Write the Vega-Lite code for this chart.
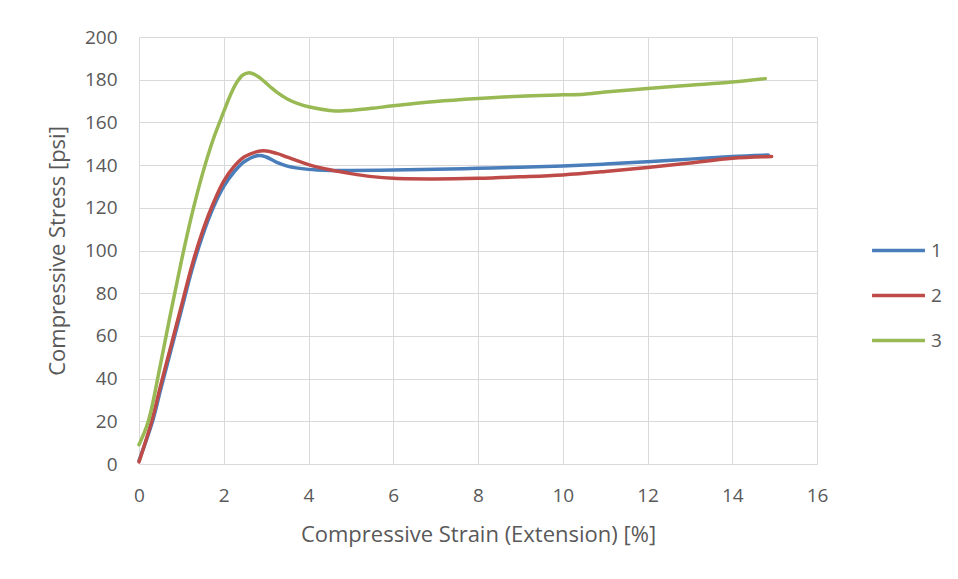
{
  "$schema": "https://vega.github.io/schema/vega-lite/v6.json",
  "width": 678,
  "height": 427,
  "autosize": {"type": "none"},
  "padding": {"left": 139, "top": 37, "right": 141, "bottom": 115},
  "background": "white",
  "config": {
    "font": "Open Sans",
    "view": {"stroke": null},
    "axis": {
      "gridColor": "#d9d9d9",
      "gridWidth": 1,
      "labelColor": "#595959",
      "labelFontSize": 19,
      "labelFlush": false,
      "titleColor": "#595959",
      "titleFontSize": 22,
      "titleFontWeight": "normal",
      "ticks": false,
      "domain": false
    }
  },
  "data": {
    "values": [
      {"series": "1", "x": 0, "y": 1.5},
      {"series": "1", "x": 0.32, "y": 20},
      {"series": "1", "x": 0.5, "y": 34},
      {"series": "1", "x": 0.75, "y": 53},
      {"series": "1", "x": 1.0, "y": 72},
      {"series": "1", "x": 1.25, "y": 91},
      {"series": "1", "x": 1.5, "y": 107},
      {"series": "1", "x": 1.75, "y": 120},
      {"series": "1", "x": 2.0, "y": 130},
      {"series": "1", "x": 2.25, "y": 137},
      {"series": "1", "x": 2.5, "y": 141.8},
      {"series": "1", "x": 2.82, "y": 144.5},
      {"series": "1", "x": 3.0, "y": 143.8},
      {"series": "1", "x": 3.25, "y": 141.3},
      {"series": "1", "x": 3.5, "y": 139.5},
      {"series": "1", "x": 4.0, "y": 138},
      {"series": "1", "x": 4.5, "y": 137.5},
      {"series": "1", "x": 5.0, "y": 137.5},
      {"series": "1", "x": 6.0, "y": 137.7},
      {"series": "1", "x": 7.0, "y": 138},
      {"series": "1", "x": 8.0, "y": 138.5},
      {"series": "1", "x": 9.0, "y": 139},
      {"series": "1", "x": 10.0, "y": 139.6},
      {"series": "1", "x": 11.0, "y": 140.5},
      {"series": "1", "x": 12.0, "y": 141.6},
      {"series": "1", "x": 13.0, "y": 142.8},
      {"series": "1", "x": 14.0, "y": 144},
      {"series": "1", "x": 14.85, "y": 144.7},
      {"series": "2", "x": 0, "y": 1},
      {"series": "2", "x": 0.3, "y": 20},
      {"series": "2", "x": 0.5, "y": 36},
      {"series": "2", "x": 0.75, "y": 55},
      {"series": "2", "x": 1.0, "y": 74},
      {"series": "2", "x": 1.25, "y": 93},
      {"series": "2", "x": 1.5, "y": 109},
      {"series": "2", "x": 1.75, "y": 122},
      {"series": "2", "x": 2.0, "y": 132.5},
      {"series": "2", "x": 2.25, "y": 139.5},
      {"series": "2", "x": 2.5, "y": 144},
      {"series": "2", "x": 2.93, "y": 146.7},
      {"series": "2", "x": 3.25, "y": 145.5},
      {"series": "2", "x": 3.5, "y": 143.7},
      {"series": "2", "x": 4.0, "y": 140.2},
      {"series": "2", "x": 4.5, "y": 137.8},
      {"series": "2", "x": 5.0, "y": 136},
      {"series": "2", "x": 5.5, "y": 134.6},
      {"series": "2", "x": 6.0, "y": 133.8},
      {"series": "2", "x": 7.0, "y": 133.5},
      {"series": "2", "x": 8.0, "y": 133.8},
      {"series": "2", "x": 9.0, "y": 134.5},
      {"series": "2", "x": 10.0, "y": 135.4},
      {"series": "2", "x": 11.0, "y": 137},
      {"series": "2", "x": 12.0, "y": 138.9},
      {"series": "2", "x": 13.0, "y": 141},
      {"series": "2", "x": 14.0, "y": 143.2},
      {"series": "2", "x": 14.93, "y": 144},
      {"series": "3", "x": 0, "y": 9},
      {"series": "3", "x": 0.22, "y": 20},
      {"series": "3", "x": 0.5, "y": 46},
      {"series": "3", "x": 0.75, "y": 71},
      {"series": "3", "x": 1.0, "y": 95},
      {"series": "3", "x": 1.25, "y": 117},
      {"series": "3", "x": 1.5, "y": 136},
      {"series": "3", "x": 1.75, "y": 152},
      {"series": "3", "x": 2.0, "y": 165},
      {"series": "3", "x": 2.15, "y": 172.5},
      {"series": "3", "x": 2.3, "y": 178.5},
      {"series": "3", "x": 2.45, "y": 182.2},
      {"series": "3", "x": 2.6, "y": 183.3},
      {"series": "3", "x": 2.75, "y": 182.2},
      {"series": "3", "x": 2.875, "y": 180.5},
      {"series": "3", "x": 3.0, "y": 178.4},
      {"series": "3", "x": 3.125, "y": 176.2},
      {"series": "3", "x": 3.25, "y": 174.2},
      {"series": "3", "x": 3.5, "y": 171},
      {"series": "3", "x": 3.75, "y": 168.8},
      {"series": "3", "x": 4.0, "y": 167.3},
      {"series": "3", "x": 4.5, "y": 165.6},
      {"series": "3", "x": 4.75, "y": 165.3},
      {"series": "3", "x": 5.0, "y": 165.6},
      {"series": "3", "x": 5.5, "y": 166.6},
      {"series": "3", "x": 6.0, "y": 167.8},
      {"series": "3", "x": 7.0, "y": 169.8},
      {"series": "3", "x": 8.0, "y": 171.2},
      {"series": "3", "x": 9.0, "y": 172.3},
      {"series": "3", "x": 10.0, "y": 172.9},
      {"series": "3", "x": 10.5, "y": 173.2},
      {"series": "3", "x": 11.0, "y": 174.2},
      {"series": "3", "x": 12.0, "y": 175.9},
      {"series": "3", "x": 13.0, "y": 177.4},
      {"series": "3", "x": 14.0, "y": 178.9},
      {"series": "3", "x": 14.78, "y": 180.5}
    ]
  },
  "mark": {"type": "line", "strokeWidth": 3.5, "interpolate": "catmull-rom", "strokeCap": "round"},
  "encoding": {
    "x": {
      "field": "x",
      "type": "quantitative",
      "scale": {"domain": [0, 16], "nice": false},
      "axis": {"values": [0, 2, 4, 6, 8, 10, 12, 14, 16], "title": "Compressive Strain (Extension) [%]", "labelPadding": 22, "titlePadding": 19, "domain": true, "domainColor": "#d9d9d9"}
    },
    "y": {
      "field": "y",
      "type": "quantitative",
      "scale": {"domain": [0, 200], "nice": false},
      "axis": {"values": [0, 20, 40, 60, 80, 100, 120, 140, 160, 180, 200], "title": "Compressive Stress [psi]", "labelPadding": 22, "titlePadding": 15}
    },
    "color": {
      "field": "series",
      "type": "nominal",
      "scale": {"domain": ["1", "2", "3"], "range": ["#4A7EBB", "#BE4B48", "#98B954"]},
      "legend": {
        "title": null,
        "orient": "none",
        "legendX": 731,
        "legendY": 185,
        "symbolType": "stroke",
        "symbolSize": 2800,
        "symbolStrokeWidth": 3.5,
        "labelFontSize": 19,
        "labelColor": "#595959",
        "rowPadding": 6,
        "labelOffset": 4
      }
    }
  }
}
